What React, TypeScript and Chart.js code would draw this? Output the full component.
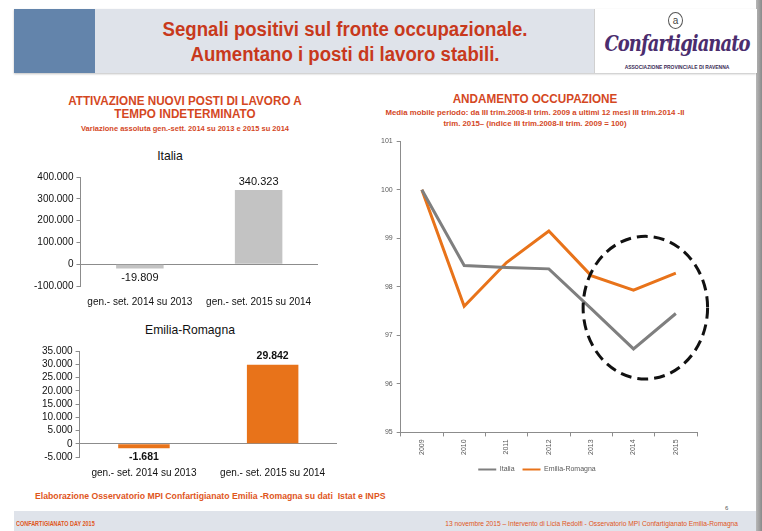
import React, { useEffect, useRef } from 'react';
import { Chart, registerables } from 'chart.js';

Chart.register(...registerables);

// ---------- DATA ----------
const barCategories = ['gen.- set. 2014 su 2013', 'gen.- set. 2015 su 2014'];
const italiaValues = [-19809, 340323];
const emiliaValues = [-1681, 29842];
const italiaAxis = [-100000, 400000, 100000]; // min, max, step
const emiliaAxis = [-5000, 35000, 5000];

const years = ['2009', '2010', '2011', '2012', '2013', '2014', '2015'];
const italiaIndex = [100, 98.44, 98.4, 98.37, 97.55, 96.72, 97.45];
const emiliaIndex = [100, 97.6, 98.5, 99.15, 98.23, 97.93, 98.28];
const lineAxis = [95, 101, 1];
const seriesNames = ['Italia', 'Emilia-Romagna'];
// dashed highlight circle (in data units: category index, index value, radii)
const circleCenter = [5.28, 97.57];
const circleRadius = [1.47, 1.47];

// ---------- STYLE ----------
const NARROW = '"Liberation Sans", Arial, sans-serif';
const SANS = '"Liberation Sans", Arial, sans-serif';
const RED = '#d4481f';
const GRAY_BAR = '#c3c3c3';
const ORANGE = '#e8731a';
const LINE_GRAY = '#7f7f7f';
const AXIS = '#8c8c8c';

const fmt = (v: number) => {
  const s = Math.abs(Math.round(v)).toString().replace(/\B(?=(\d{3})+(?!\d))/g, '.');
  return (v < 0 ? '-' : '') + s;
};

const valueLabels = {
  id: 'valueLabels',
  afterDatasetsDraw(chart: any, _a: any, opts: any) {
    const ctx = chart.ctx;
    const meta = chart.getDatasetMeta(0);
    const data = chart.data.datasets[0].data as number[];
    meta.data.forEach((bar: any, i: number) => {
      const v = data[i];
      ctx.save();
      ctx.font = opts.font;
      ctx.fillStyle = '#111';
      ctx.textAlign = 'center';
      if (v >= 0) {
        ctx.textBaseline = 'bottom';
        ctx.fillText(fmt(v), bar.x, bar.y - 3);
      } else {
        ctx.textBaseline = 'top';
        ctx.fillText(fmt(v), bar.x, bar.y + 4);
      }
      ctx.restore();
    });
  },
};

const dashedCircle = {
  id: 'dashedCircle',
  afterDatasetsDraw(chart: any) {
    const x = chart.scales.x;
    const y = chart.scales.y;
    const i0 = Math.floor(circleCenter[0]);
    const f = circleCenter[0] - i0;
    const step = x.getPixelForValue(i0 + 1) - x.getPixelForValue(i0);
    const cx = x.getPixelForValue(i0) + f * step;
    const cy = y.getPixelForValue(circleCenter[1]);
    const rx = circleRadius[0] * step;
    const ry = Math.abs(y.getPixelForValue(circleCenter[1] + circleRadius[1]) - cy);
    const ctx = chart.ctx;
    ctx.save();
    ctx.beginPath();
    ctx.setLineDash([11, 6]);
    ctx.lineWidth = 3;
    ctx.strokeStyle = '#111';
    ctx.ellipse(cx, cy, rx, ry, 0, 0, Math.PI * 2);
    ctx.stroke();
    ctx.restore();
  },
};

function BarChart(props: {
  values: number[];
  color: string;
  axis: number[];
  left: number;
  top: number;
  width: number;
  height: number;
  padding: any;
  labelFont: string;
}) {
  const ref = useRef<HTMLCanvasElement>(null);
  useEffect(() => {
    const chart = new Chart(ref.current!, {
      type: 'bar',
      data: {
        labels: barCategories,
        datasets: [
          {
            data: props.values,
            backgroundColor: props.color,
            categoryPercentage: 1,
            barPercentage: 0.4,
          },
        ],
      },
      options: {
        animation: false,
        responsive: false,
        layout: { padding: props.padding },
        plugins: {
          legend: { display: false },
          tooltip: { enabled: false },
          valueLabels: { font: props.labelFont },
        } as any,
        scales: {
          x: {
            grid: { display: false },
            border: { display: false },
            ticks: { color: '#111', font: { family: SANS, size: 10 }, padding: 2 },
          },
          y: {
            min: props.axis[0],
            max: props.axis[1],
            ticks: {
              stepSize: props.axis[2],
              autoSkip: false,
              color: '#111',
              font: { family: SANS, size: 10 },
              padding: 3,
              callback: (v: any) => fmt(Number(v)),
            },
            border: { color: AXIS, width: 1 },
            grid: {
              color: (c: any) => (c.tick && c.tick.value === 0 ? AXIS : 'rgba(0,0,0,0)'),
              tickColor: AXIS,
              tickLength: 4,
            },
          },
        },
      },
      plugins: [valueLabels],
    });
    return () => chart.destroy();
  }, []);
  return (
    <canvas
      ref={ref}
      width={props.width}
      height={props.height}
      style={{ position: 'absolute', left: props.left, top: props.top, width: props.width, height: props.height }}
    />
  );
}

function LineChart() {
  const ref = useRef<HTMLCanvasElement>(null);
  useEffect(() => {
    const chart = new Chart(ref.current!, {
      type: 'line',
      data: {
        labels: years,
        datasets: [
          {
            label: seriesNames[0],
            data: italiaIndex,
            borderColor: LINE_GRAY,
            backgroundColor: LINE_GRAY,
            borderWidth: 3,
            pointRadius: 0,
            tension: 0,
          },
          {
            label: seriesNames[1],
            data: emiliaIndex,
            borderColor: ORANGE,
            backgroundColor: ORANGE,
            borderWidth: 3,
            pointRadius: 0,
            tension: 0,
          },
        ],
      },
      options: {
        animation: false,
        responsive: false,
        layout: { padding: { left: 15, right: 15, top: 2, bottom: 0 } },
        plugins: {
          legend: {
            position: 'bottom',
            labels: {
              boxWidth: 18,
              boxHeight: 2,
              padding: 8,
              color: '#595959',
              font: { family: SANS, size: 7 },
              generateLabels: (c: any) =>
                (Chart.defaults.plugins.legend.labels.generateLabels as any)(c).map((l: any) => ({
                  ...l,
                  lineWidth: 0,
                  strokeStyle: 'rgba(0,0,0,0)',
                })),
            },
          },
          tooltip: { enabled: false },
        },
        scales: {
          x: {
            offset: true,
            grid: { display: true, drawOnChartArea: false, offset: true, tickLength: 4, tickColor: AXIS },
            border: { color: AXIS },
            ticks: { minRotation: 90, maxRotation: 90, color: '#595959', font: { family: SANS, size: 7 }, padding: 3 },
          },
          y: {
            min: lineAxis[0],
            max: lineAxis[1],
            ticks: { stepSize: lineAxis[2], color: '#595959', font: { family: SANS, size: 7 }, padding: 4 },
            grid: { drawOnChartArea: false, tickLength: 4, tickColor: AXIS },
            border: { color: AXIS },
          },
        },
      },
      plugins: [dashedCircle],
    });
    return () => chart.destroy();
  }, []);
  return (
    <canvas
      ref={ref}
      width={350}
      height={350}
      style={{ position: 'absolute', left: 362, top: 133, width: 350, height: 350 }}
    />
  );
}

const abs = (s: any): any => ({ position: 'absolute', ...s });
const narrow = (k: number, origin = 'center') => ({ transform: `scaleX(${k})`, transformOrigin: origin });

export default function App() {
  return (
    <div
      style={{
        position: 'fixed',
        left: 0,
        top: 0,
        width: 762,
        height: 531,
        overflow: 'hidden',
        background: '#ffffff',
        fontFamily: NARROW,
      }}
    >
      {/* right shadow */}
      <div style={abs({ left: 756, top: 0, width: 6, height: 531, background: 'linear-gradient(90deg,#b8b8b8,#8a8a8a)' })} />
      {/* header */}
      <div style={abs({ left: 14, top: 9, width: 742, height: 64, background: '#dfe3ea', boxShadow: '0 1px 2px rgba(0,0,0,0.25)' })} />
      <div style={abs({ left: 14, top: 9, width: 81, height: 64, background: '#6384ab' })} />
      <div style={abs({ left: 594, top: 9, width: 162, height: 64, background: '#ffffff', borderLeft: '1px solid #d0d0d0' })} />
      <div
        style={abs({
          left: 95,
          top: 17,
          width: 500,
          textAlign: 'center',
          color: '#c8391c',
          fontSize: 20,
          lineHeight: '25px',
          fontWeight: 'bold',
          ...narrow(0.93),
        })}
      >
        Segnali positivi sul fronte occupazionale.
        <br />
        Aumentano i posti di lavoro stabili.
      </div>
      {/* logo */}
      <div
        style={abs({
          left: 668,
          top: 12,
          width: 13,
          height: 15,
          border: '1px solid #555',
          borderRadius: '50%',
          fontSize: 10,
          lineHeight: '15px',
          textAlign: 'center',
          color: '#444',
          fontFamily: SANS,
        })}
      >
        a
      </div>
      <div
        style={abs({
          left: 578,
          top: 30,
          width: 198,
          textAlign: 'center',
          color: '#4b2d6e',
          fontSize: 23,
          fontStyle: 'italic',
          fontWeight: 'bold',
          fontFamily: '"DejaVu Serif", serif',
          letterSpacing: -1.2,
          lineHeight: '26px',
          ...narrow(0.78),
        })}
      >
        Confartigianato
      </div>
      <div
        style={abs({
          left: 578,
          top: 64,
          width: 198,
          textAlign: 'center',
          color: '#3a2a55',
          fontSize: 5.5,
          fontWeight: 'bold',
          fontFamily: SANS,
          lineHeight: '6px',
          ...narrow(0.9),
        })}
      >
        ASSOCIAZIONE PROVINCIALE DI RAVENNA
      </div>

      {/* left titles */}
      <div
        style={abs({ left: 30, top: 94, width: 310, textAlign: 'center', color: RED, fontSize: 13, lineHeight: '13px', fontWeight: 'bold', ...narrow(0.9) })}
      >
        ATTIVAZIONE NUOVI POSTI DI LAVORO A
        <br />
        TEMPO INDETERMINATO
      </div>
      <div
        style={abs({ left: 30, top: 125, width: 310, textAlign: 'center', color: RED, fontSize: 7.5, lineHeight: '8px', fontWeight: 'bold' })}
      >
        Variazione assoluta gen.-sett. 2014 su 2013 e 2015 su 2014
      </div>
      <div style={abs({ left: 80, top: 148, width: 180, textAlign: 'center', color: '#111', fontSize: 13.5, lineHeight: '15px', fontFamily: SANS, ...narrow(0.9) })}>
        Italia
      </div>
      <div style={abs({ left: 100, top: 322, width: 180, textAlign: 'center', color: '#111', fontSize: 13.5, lineHeight: '15px', fontFamily: SANS, ...narrow(0.9) })}>
        Emilia-Romagna
      </div>

      <BarChart
        values={italiaValues}
        color={GRAY_BAR}
        axis={italiaAxis}
        left={25}
        top={168}
        width={305}
        height={144}
        padding={{ left: 6, right: 12, top: 3, bottom: 2 }}
        labelFont={'11px ' + SANS}
      />
      <BarChart
        values={emiliaValues}
        color={ORANGE}
        axis={emiliaAxis}
        left={25}
        top={342}
        width={320}
        height={141}
        padding={{ left: 14, right: 8, top: 2, bottom: 2 }}
        labelFont={'bold 10.5px ' + SANS}
      />

      {/* right titles */}
      <div style={abs({ left: 380, top: 92, width: 310, textAlign: 'center', color: RED, fontSize: 13, lineHeight: '13px', fontWeight: 'bold', ...narrow(0.9) })}>
        ANDAMENTO OCCUPAZIONE
      </div>
      <div style={abs({ left: 365, top: 107, width: 340, textAlign: 'center', color: RED, fontSize: 7.8, lineHeight: '11px', fontWeight: 'bold' })}>
        Media mobile periodo: da III trim.2008-II trim. 2009 a ultimi 12 mesi III trim.2014 -II
        <br />
        trim. 2015– (indice III trim.2008-II trim. 2009 = 100)
      </div>
      <LineChart />

      {/* source */}
      <div style={abs({ left: 35, top: 491, color: '#e0561c', fontSize: 8.7, lineHeight: '10px', fontWeight: 'bold', whiteSpace: 'nowrap', ...narrow(1, 'left') })}>
        Elaborazione Osservatorio MPI Confartigianato Emilia -Romagna su dati&nbsp; Istat e INPS
      </div>
      <div style={abs({ left: 725, top: 505, color: '#555', fontSize: 6, fontFamily: SANS })}>6</div>

      {/* footer */}
      <div style={abs({ left: 14, top: 511, width: 742, height: 20, background: '#dfe3ea' })} />
      <div style={abs({ left: 16, top: 520, color: '#e0561c', fontSize: 7, lineHeight: '7px', fontWeight: 'bold', whiteSpace: 'nowrap', ...narrow(0.78, 'left') })}>
        CONFARTIGIANATO DAY 2015
      </div>
      <div style={abs({ left: 296, top: 520, width: 442, textAlign: 'right', color: '#e0561c', fontSize: 7, lineHeight: '7px', whiteSpace: 'nowrap', ...narrow(0.95, 'right') })}>
        13 novembre 2015 – Intervento di Licia Redolfi - Osservatorio MPI Confartigianato Emilia-Romagna
      </div>
    </div>
  );
}
